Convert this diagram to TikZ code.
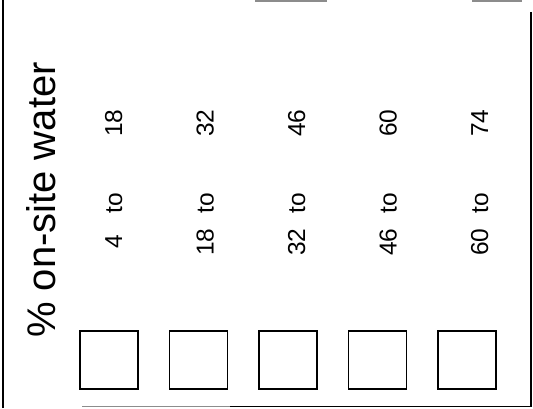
\documentclass[tikz,border=0pt]{standalone}
\usepackage{fontspec}
\setmainfont{Liberation Sans}
\usetikzlibrary{positioning}
\tikzset{
 legbox/.style={draw=black,line width=1.1pt,minimum size=58pt,inner sep=0pt},
 numlbl/.style={rotate=90,anchor=base,inner sep=0pt,font=\fontsize{24.5}{24.5}\selectfont},
 ttl/.style={rotate=90,anchor=base,inner sep=0pt,font=\fontsize{40}{40}\selectfont},
 frameline/.style={line width=1.4pt,draw=black},
 faintline/.style={line width=1.2pt,draw=black!45}
}
\begin{document}
\begin{tikzpicture}[x=1pt,y=1pt]
\useasboundingbox (0,0) rectangle (533,408);
\node[ttl] (title) at (55,208) {\% on-site water};
\foreach \i/\lo/\hi in {0/4/18,1/18/32,2/32/46,3/46/60,4/60/74} {
 \node[legbox] (box\i) at ({109+89.5*\i},48) {};
 \node[numlbl] (lo\i) at ({122+91.5*\i},166) {\lo};
 \node[numlbl] (to\i) at ({122+91.5*\i},205) {to};
 \node[numlbl] (hi\i) at ({122+91.5*\i},285) {\hi};
}
% frame
\draw[frameline] (3,0) -- (3,408);
\draw[frameline] (531,396) -- (531,1.5) -- (230,1.5);
\draw[faintline] (230,1.5) -- (82,1.5);
\draw[faintline] (255,407) -- (327,407);
\draw[faintline] (472,407) -- (522,407);
\end{tikzpicture}
\end{document}
